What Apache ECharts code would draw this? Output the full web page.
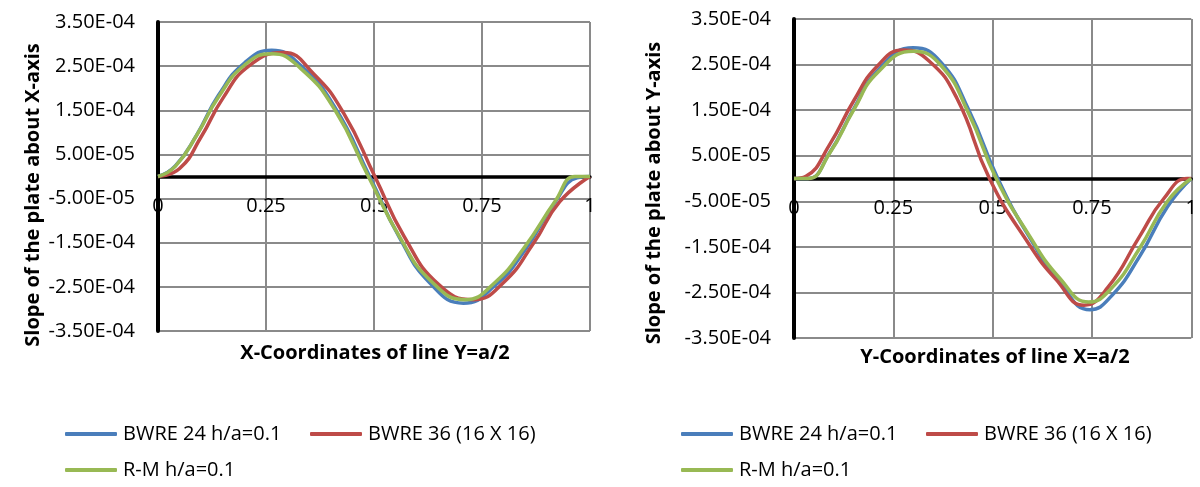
<!DOCTYPE html>
<html>
<head>
<meta charset="utf-8">
<script src="https://cdn.jsdelivr.net/npm/echarts@6/dist/echarts.min.js"></script>
<style>
  html, body { margin: 0; padding: 0; background: #ffffff; }
  #chart { width: 1200px; height: 487px; }
</style>
</head>
<body>
<div id="chart"></div>
<script>
// ---- Slope about X-axis along the line Y = a/2 ----
const lineYa2_bwre24_x = [0, 0.04, 0.09, 0.14, 0.20, 0.263, 0.33, 0.41, 0.49, 0.56, 0.63, 0.707, 0.78, 0.85, 0.92, 0.97, 1];
const lineYa2_bwre24   = [0, 0.24e-4, 0.95e-4, 1.84e-4, 2.57e-4, 2.86e-4, 2.52e-4, 1.56e-4, 0, -1.40e-4, -2.42e-4, -2.87e-4,
                          -2.47e-4, -1.66e-4, -0.57e-4, -0.03e-4, 0];
const lineYa2_bwre36_x = [0, 0.05, 0.10, 0.15, 0.21, 0.29, 0.36, 0.43, 0.502, 0.57, 0.65, 0.73, 0.80, 0.87, 0.93, 1];
const lineYa2_bwre36   = [0, 0.18e-4, 0.90e-4, 1.77e-4, 2.50e-4, 2.81e-4, 2.33e-4, 1.43e-4, 0, -1.36e-4, -2.45e-4, -2.79e-4,
                          -2.40e-4, -1.50e-4, -0.57e-4, 0];
const lineYa2_rm_x     = [0, 0.04, 0.09, 0.14, 0.20, 0.263, 0.33, 0.41, 0.487, 0.56, 0.63, 0.711, 0.78, 0.85, 0.92, 0.965, 1];
const lineYa2_rm       = [0, 0.23e-4, 0.94e-4, 1.80e-4, 2.52e-4, 2.78e-4, 2.45e-4, 1.50e-4, 0, -1.38e-4, -2.35e-4, -2.79e-4,
                          -2.40e-4, -1.58e-4, -0.55e-4, 0, 0];

// ---- Slope about Y-axis along the line X = a/2 ----
const lineXa2_bwre24_x = [0, 0.035, 0.09, 0.15, 0.21, 0.30, 0.37, 0.44, 0.513, 0.59, 0.67, 0.745, 0.80, 0.87, 0.94, 1];
const lineXa2_bwre24   = [0, 0, 0.57e-4, 1.52e-4, 2.36e-4, 2.87e-4, 2.55e-4, 1.50e-4, 0, -1.25e-4, -2.28e-4, -2.88e-4,
                          -2.57e-4, -1.71e-4, -0.62e-4, 0];
const lineXa2_bwre36_x = [0, 0.03, 0.09, 0.15, 0.21, 0.275, 0.34, 0.41, 0.492, 0.59, 0.66, 0.73, 0.79, 0.87, 0.93, 0.99, 1];
const lineXa2_bwre36   = [0, 0.05e-4, 0.75e-4, 1.70e-4, 2.47e-4, 2.82e-4, 2.58e-4, 1.76e-4, 0, -1.42e-4, -2.22e-4, -2.78e-4,
                          -2.39e-4, -1.27e-4, -0.45e-4, 0, 0];
const lineXa2_rm_x     = [0, 0.035, 0.09, 0.15, 0.21, 0.30, 0.37, 0.44, 0.509, 0.59, 0.67, 0.742, 0.80, 0.87, 0.94, 1];
const lineXa2_rm       = [0, 0, 0.56e-4, 1.50e-4, 2.32e-4, 2.79e-4, 2.48e-4, 1.42e-4, 0, -1.22e-4, -2.20e-4, -2.71e-4,
                          -2.40e-4, -1.53e-4, -0.50e-4, 0];

// Tick labels, bottom to top / left to right
const yTickLabels = ['-3.50E-04', '-2.50E-04', '-1.50E-04', '-5.00E-05',
                     '5.00E-05', '1.50E-04', '2.50E-04', '3.50E-04'];
const xTickLabels = ['0', '0.25', '0.5', '0.75', '1'];

const seriesNames = ['BWRE 24 h/a=0.1', 'BWRE 36 (16 X 16)', 'R-M h/a=0.1'];
const seriesColors = ['#4A7EBB', '#BE4B48', '#98B954'];

const FONT = "'Open Sans', 'Noto Sans', sans-serif";
const gridColor = '#8a8a8a';

// Plot rectangles of the two panels
const panels = [
  { left: 158, top: 22, width: 432, height: 309 },
  { left: 794, top: 19, width: 405.5, height: 319 }
];

function pairs(xs, ys) { return xs.map((x, i) => [x, ys[i]]); }

// The horizontal axis crosses the symmetric value range at zero, i.e. mid-height
function xAxisFor(gridIndex) {
  return {
    type: 'value', gridIndex, min: 0, max: 1, interval: 0.25,
    offset: -panels[gridIndex].height / 2,
    axisLine: { onZero: false, lineStyle: { color: '#000', width: 3.5 } },
    axisTick: { show: false },
    axisLabel: {
      margin: 20, color: '#000', fontFamily: FONT, fontSize: 20,
      formatter: (v, i) => xTickLabels[i]
    },
    splitLine: { show: true, lineStyle: { color: gridColor, width: 2 } }
  };
}
function yAxisFor(gridIndex) {
  return {
    type: 'value', gridIndex, min: -3.5e-4, max: 3.5e-4, interval: 1e-4,
    axisLine: { show: true, onZero: false, lineStyle: { color: '#000', width: 4 } },
    axisTick: { show: false },
    axisLabel: {
      margin: 23, color: '#000', fontFamily: FONT, fontSize: 20,
      formatter: (v, i) => yTickLabels[i]
    },
    splitLine: { show: true, lineStyle: { color: gridColor, width: 2 } }
  };
}
function lineSeries(name, color, xs, ys, axisIndex) {
  return {
    type: 'line', name, data: pairs(xs, ys),
    xAxisIndex: axisIndex, yAxisIndex: axisIndex,
    smooth: 0.5, showSymbol: false, symbol: 'none',
    lineStyle: { color, width: 3.5 }, itemStyle: { color },
    animation: false
  };
}
function legendAt(name, left, top) {
  return {
    data: [name], left, top, padding: 0,
    icon: 'roundRect', itemWidth: 52, itemHeight: 4, itemGap: 0,
    textStyle: { fontFamily: FONT, fontSize: 20, color: '#000', padding: [0, 0, 0, 1] },
    selectedMode: false
  };
}
function titleText(text, x, y, rotate) {
  return {
    type: 'text', x, y, rotation: rotate ? Math.PI / 2 : 0,
    style: {
      text, fill: '#000', font: "bold 20px " + FONT,
      align: 'center', verticalAlign: 'middle'
    }
  };
}

const chart = echarts.init(document.getElementById('chart'), null, { renderer: 'canvas' });
chart.setOption({
  backgroundColor: '#ffffff',
  animation: false,
  grid: panels,
  xAxis: [xAxisFor(0), xAxisFor(1)],
  yAxis: [yAxisFor(0), yAxisFor(1)],
  legend: [
    legendAt(seriesNames[0], 65, 424),
    legendAt(seriesNames[1], 310, 424),
    legendAt(seriesNames[2], 65, 460),
    legendAt(seriesNames[0], 681, 424),
    legendAt(seriesNames[1], 926, 424),
    legendAt(seriesNames[2], 681, 460)
  ],
  graphic: [
    titleText('Slope of the plate about X-axis', 33, 195, true),
    titleText('X-Coordinates of line Y=a/2', 375, 353, false),
    titleText('Slope of the plate about Y-axis', 654, 193, true),
    titleText('Y-Coordinates of line X=a/2', 995, 357, false)
  ],
  series: [
    lineSeries(seriesNames[0], seriesColors[0], lineYa2_bwre24_x, lineYa2_bwre24, 0),
    lineSeries(seriesNames[1], seriesColors[1], lineYa2_bwre36_x, lineYa2_bwre36, 0),
    lineSeries(seriesNames[2], seriesColors[2], lineYa2_rm_x, lineYa2_rm, 0),
    lineSeries(seriesNames[0], seriesColors[0], lineXa2_bwre24_x, lineXa2_bwre24, 1),
    lineSeries(seriesNames[1], seriesColors[1], lineXa2_bwre36_x, lineXa2_bwre36, 1),
    lineSeries(seriesNames[2], seriesColors[2], lineXa2_rm_x, lineXa2_rm, 1)
  ]
});
</script>
</body>
</html>
